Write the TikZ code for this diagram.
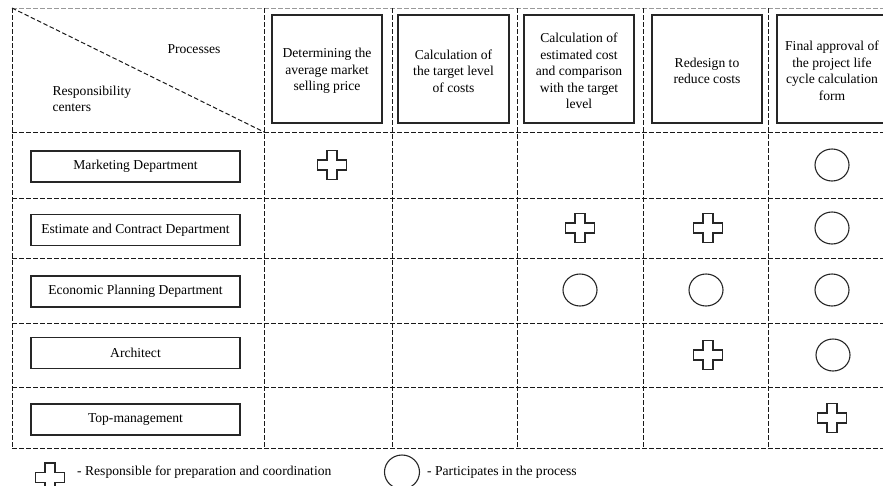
\documentclass[tikz,border=0pt]{standalone}
\usepackage{fontspec}
\setmainfont{Liberation Serif}
\usetikzlibrary{shapes.geometric}
\begin{document}
\begin{tikzpicture}[x=1pt,y=-1pt,
  gridline/.style={dash pattern=on 4.5pt off 2.5pt, line width=1pt, draw=black!90},
  txt/.style={font=\fontsize{13.6}{16.5}\selectfont},
  htxt/.style={txt, align=center},
  hbox/.style={draw=black!85, line width=1.2pt, minimum width=110pt, minimum height=108pt, inner sep=0pt},
  rbox/.style={txt, draw=black!85, line width=1.2pt, minimum width=209pt, minimum height=31pt, inner sep=0pt},
  circ/.style={draw=black!85, line width=1.1pt, ellipse, minimum width=34pt, minimum height=32pt, inner sep=0pt},
  plussym/.pic={\draw[draw=black!85, line width=1.1pt]
    (-5,-14.5) -- (5,-14.5) -- (5,-5) -- (14.5,-5) -- (14.5,5) -- (5,5) -- (5,14.5)
    -- (-5,14.5) -- (-5,5) -- (-14.5,5) -- (-14.5,-5) -- (-5,-5) -- cycle;}]
\useasboundingbox (0,0) rectangle (883,485);

% grid
\draw[gridline, draw=black!40] (12,8) -- (890,8);
\draw[gridline] (12,8) -- (12,448);
\foreach \x in {264,392,517,643,768} \draw[gridline] (\x,8) -- (\x,448);
\foreach \y in {132,198,258,323,387,448} \draw[gridline] (12,\y) -- (890,\y);
\draw[gridline] (12,8) -- (264,132);

% corner labels
\node[txt] (proc) at (194,49) {Processes};
\node[txt, align=left, anchor=west] (resp) at (49,99) {Responsibility\\centers};

% header boxes
\node[hbox] (h1) at (327,69) {};
\node[htxt] (h1t) at (327,71) {Determining the\\average market\\selling price};
\node[hbox, minimum width=111pt] (h2) at (453.5,69) {};
\node[htxt] (h2t) at (453.5,71) {Calculation of\\the target level\\of costs};
\node[hbox] (h3) at (579,69) {};
\node[htxt] (h3t) at (579,71) {Calculation of\\estimated cost\\and comparison\\with the target\\level};
\node[hbox] (h4) at (707,69) {};
\node[htxt] (h4t) at (707,71) {Redesign to\\reduce costs};
\node[hbox] (h5) at (832,69) {};
\node[htxt] (h5t) at (832,71) {Final approval of\\the project life\\cycle calculation\\form};

% row boxes
\node[rbox] (r1) at (135.5,166.5) {Marketing Department};
\node[rbox] (r2) at (135.5,230) {Estimate and Contract Department};
\node[rbox] (r3) at (135.5,291.5) {Economic Planning Department};
\node[rbox] (r4) at (135.5,353) {Architect};
\node[rbox] (r5) at (135.5,419.5) {Top-management};

% symbols
\pic at (332,165) {plussym};
\pic at (580,228) {plussym};
\pic at (708,228) {plussym};
\pic at (708,355) {plussym};
\pic at (832,418) {plussym};
\node[circ] (c15) at (832,165) {};
\node[circ] (c25) at (832,228) {};
\node[circ] (c33) at (580,290) {};
\node[circ] (c34) at (706,290) {};
\node[circ] (c35) at (832,290) {};
\node[circ] (c45) at (833,355) {};

% legend
\pic at (50,477.5) {plussym};
\node[txt, anchor=west, inner sep=0pt] (leg1) at (77,472) {- Responsible for preparation and coordination};
\node[circ, minimum width=35pt, minimum height=34pt] (legc) at (402,472) {};
\node[txt, anchor=west, inner sep=0pt] (leg2) at (427,472) {- Participates in the process};
\end{tikzpicture}
\end{document}
